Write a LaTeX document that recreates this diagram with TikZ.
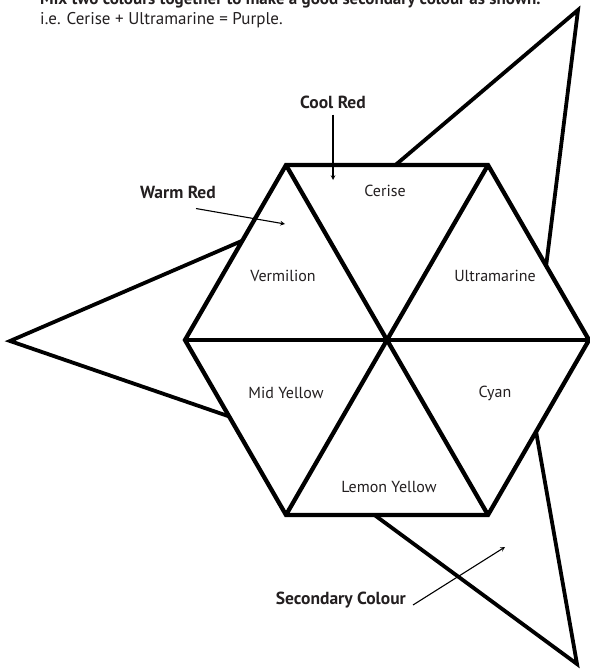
\documentclass[tikz,border=0pt]{standalone}
\usepackage{fontspec}
\setmainfont{PT Sans}
\usepackage{tikz}
\definecolor{clrText}{RGB}{35,31,32}
\usetikzlibrary{arrows,positioning}

\begin{document}
\begin{tikzpicture}[
  x = 1pt, y = -1pt,                         % pixel-like grid, y down
  every node/.style = {font=\fontsize{16}{19}\selectfont,
                       text=clrText, inner sep=0pt},
  %--- styles --------------------------------------------------------
  hexst/.style    = {draw=black, line width=4.3pt, fill=white,
                     line join=miter},
  secst/.style    = {draw=black, line width=3.8pt, fill=white,
                     line join=miter},
  tagst/.style    = {font=\fontsize{17.5}{20}\selectfont\bfseries},
  headst/.style   = {anchor=west, font=\fontsize{17}{20}\selectfont},
  arr/.style      = {->, line width=1.1pt, >=stealth, color=black},
]
\useasboundingbox (0,0) rectangle (589,669);

% ---- Heading ------------------------------------------------------
\node[headst, font=\fontsize{17}{20}\selectfont\bfseries] (head1) at (40,0)
    {Mix two colours together to make a good secondary colour as shown.};
\node[headst] (head2) at (40,20)
    {i.e. Cerise + Ultramarine = Purple.};

% ---- Secondary triangles ------------------------------------------
\coordinate (t1)  at (578,10);
\coordinate (t1a) at (326,224);
\coordinate (t1b) at (538,331);
\coordinate (t2)  at (10,341);
\coordinate (t2a) at (332,202);
\coordinate (t2b) at (318,447);
\coordinate (t3)  at (577,664);
\coordinate (t3a) at (297,458);
\coordinate (t3b) at (521,346);

\draw[secst] (t1) -- (t1a) -- (t1b) -- cycle;
\draw[secst] (t2) -- (t2a) -- (t2b) -- cycle;
\draw[secst] (t3) -- (t3a) -- (t3b) -- cycle;

% ---- Hexagon ------------------------------------------------------
\coordinate (c) at (387,340);
\foreach \a/\n in {0/h1,60/h2,120/h3,180/h4,240/h5,300/h6}
  \path (c) ++(\a:202) coordinate (\n);

\draw[hexst] (h1) -- (h2) -- (h3) -- (h4) -- (h5) -- (h6) -- cycle;
\draw[line width=4.3pt] (h1) -- (h4);
\draw[line width=4.3pt] (h2) -- (h5);
\draw[line width=4.3pt] (h3) -- (h6);

% ---- Colour names -------------------------------------------------
\node (cerise) at (385,191) {Cerise};
\node (verm)   at (283,276) {Vermilion};
\node (ultra)  at (495,276) {Ultramarine};
\node (midy)   at (286,393) {Mid Yellow};
\node (cyan)   at (495,393) {Cyan};
\node (lemy)   at (389,487) {Lemon Yellow};

% ---- Tags ---------------------------------------------------------
\node[tagst] (cool) at (333,102) {Cool Red};
\node[tagst] (warm) at (178,192) {Warm Red};
\node[tagst, anchor=east] (sec) at (406,600) {Secondary Colour};

\coordinate (coolTip) at (333,180);
\coordinate (warmTip) at (285,224);
\coordinate (secTip)  at (505,547);

% ---- Arrows -------------------------------------------------------
\draw[arr] ([yshift=-6pt]cool.south) -- (coolTip);
\draw[arr] ([xshift=-20pt,yshift=-10pt]warm.south east) -- (warmTip);
\draw[arr] ([xshift=7pt,yshift=-5pt]sec.east) -- (secTip);

\end{tikzpicture}
\end{document}
